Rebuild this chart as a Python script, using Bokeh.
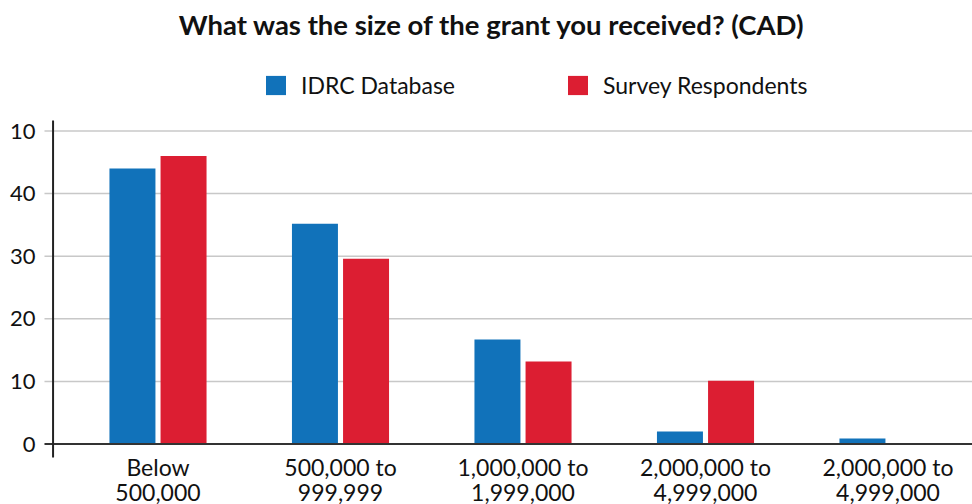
from bokeh.plotting import figure
from bokeh.models import ColumnDataSource, Legend, LegendItem, Range1d
from bokeh.embed import file_html
from bokeh.resources import INLINE

# Grant size brackets (CAD) and share of grants per source (%)
categories = ["Below\n500,000", "500,000 to\n999,999", "1,000,000 to\n1,999,000",
              "2,000,000 to\n4,999,000", "2,000,000 to\n4,999,000"]
idrc_database = [44, 35.2, 16.7, 2.0, 0.9]
survey_respondents = [46, 29.6, 13.2, 10.1, 0]
y_ticks = [0, 10, 20, 30, 40, 50]
y_tick_labels = ["0", "10", "20", "30", "40", "10"]
title = "What was the size of the grant you received? (CAD)"

BLUE = "#1172BA"
RED = "#DC1E32"
INK = "#111111"
FONT = "Lato"

xs = list(range(len(categories)))
offset = 0.14
bar_w = 0.252

# plot area covers the whole canvas; axes, grid and labels are drawn as glyphs
X0, X1 = -0.863, 4.463
Y0, Y1 = -9.66, 70.85
GRID_X0 = -0.622
AXIS_X = -0.575
AXIS_Y0, AXIS_Y1 = -2.16, 51.68

bars = ColumnDataSource(dict(
    x_idrc=[x - offset for x in xs],
    x_survey=[x + offset for x in xs],
    idrc=idrc_database,
    survey=survey_respondents,
))

p = figure(width=972, height=504, output_backend="svg", toolbar_location=None,
           x_range=Range1d(X0, X1), y_range=Range1d(Y0, Y1),
           min_border=0, outline_line_color=None)
p.axis.visible = False
p.grid.visible = False

# horizontal grid lines
grid = ColumnDataSource(dict(y=y_ticks[1:]))
p.segment(x0=GRID_X0, x1=X1, y0="y", y1="y", source=grid,
          line_color="#c8c8c8", line_width=1.5)

r1 = p.vbar(x="x_idrc", top="idrc", width=bar_w, source=bars,
            fill_color=BLUE, line_color=None)
r2 = p.vbar(x="x_survey", top="survey", width=bar_w, source=bars,
            fill_color=RED, line_color=None)

# baseline and vertical axis line
p.segment(x0=[GRID_X0], x1=[X1], y0=[0], y1=[0], line_color="#333333", line_width=2)
p.segment(x0=[AXIS_X], x1=[AXIS_X], y0=[AXIS_Y0], y1=[AXIS_Y1],
          line_color="#222222", line_width=2)

# y tick labels
ticks = ColumnDataSource(dict(y=y_ticks, text=y_tick_labels))
p.text(x=-0.671, y="y", text="text", source=ticks, text_align="right",
       text_baseline="middle", text_font={"value": FONT},
       text_font_size="22px", text_color=INK)

# category labels under the bars
cats = ColumnDataSource(dict(x=xs, text=categories))
p.text(x="x", y=-1.45, text="text", source=cats, text_align="center",
       text_baseline="top", text_font={"value": FONT},
       text_font_size="23px", text_color=INK, text_line_height=0.88)

# title
p.text(x=[1.83], y=[67.0], text=[title], text_align="center",
       text_baseline="alphabetic", text_font={"value": FONT},
       text_font_size="27.5px", text_font_style="bold", text_color=INK)

legend = Legend(items=[LegendItem(label="IDRC Database", renderers=[r1]),
                       LegendItem(label="Survey Respondents", renderers=[r2])],
                orientation="horizontal", location=(263, 405),
                glyph_width=25, glyph_height=24, label_standoff=13, spacing=110,
                padding=0, margin=0, border_line_color=None,
                background_fill_alpha=0,
                label_text_font=FONT, label_text_font_size="23px",
                label_text_color=INK)
p.add_layout(legend, "center")

open("out.html", "w").write(file_html(p, INLINE))
